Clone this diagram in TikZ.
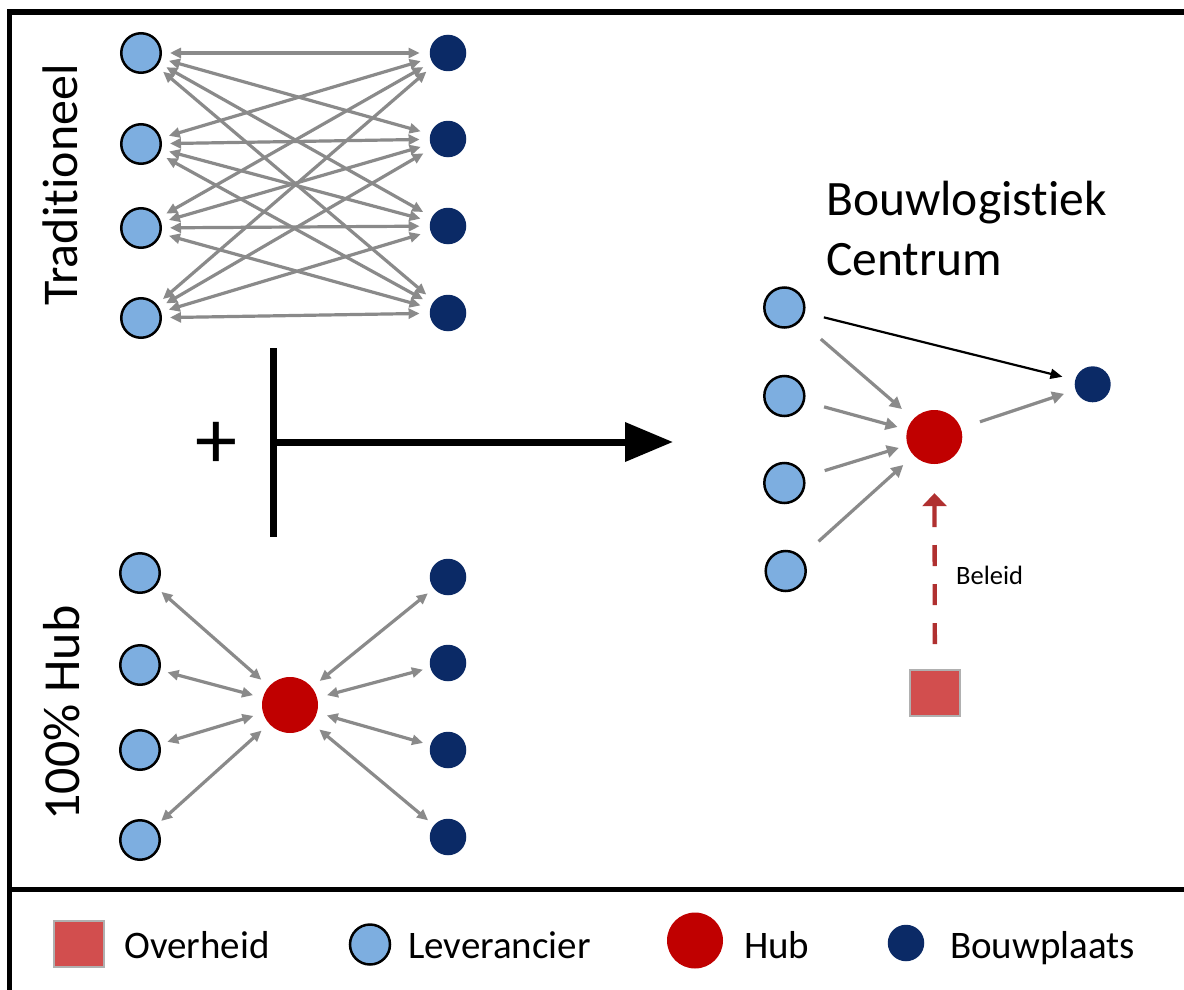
\documentclass[tikz,border=0pt]{standalone}
\usepackage{fontspec}
\setmainfont[Ligatures=NoCommon]{Carlito}
\usetikzlibrary{arrows.meta,shapes.geometric}

\definecolor{cSupplier}{HTML}{7DAEE0}
\definecolor{cSite}{HTML}{0B2A66}
\definecolor{cHub}{HTML}{C00000}
\definecolor{cGov}{HTML}{D24E4E}
\definecolor{cGovEdge}{HTML}{B0B0B0}
\definecolor{cLink}{HTML}{8A8A8A}
\definecolor{cPolicy}{HTML}{B03030}

\begin{document}
\begin{tikzpicture}[x=1pt,y=-1pt,
  supplier/.style={circle,draw=black,line width=2.5pt,fill=cSupplier,minimum size=39.5pt,inner sep=0pt},
  siteDot/.style={circle,fill=cSite,minimum size=36.5pt,inner sep=0pt},
  hubDot/.style={circle,fill=cHub,minimum size=56pt,inner sep=0pt},
  govbox/.style={rectangle,fill=cGov,draw=cGovEdge,line width=2pt,minimum width=50pt,minimum height=46pt,inner sep=0pt},
  twoway/.style={draw=cLink,line width=3.2pt,{Triangle[length=11pt,width=10pt]}-{Triangle[length=11pt,width=10pt]}},
  oneway/.style={draw=cLink,line width=3.2pt,-{Triangle[length=12pt,width=12pt]}},
  txt/.style={inner sep=0pt,anchor=base west},
  legendfont/.style={font=\fontsize{39}{44}\selectfont},
]
\useasboundingbox[fill=white] (0,0) rectangle (1184,990);

% frame and legend separator
\draw[line width=5.7pt] (7.3,12) -- (1184,12);
\draw[line width=4.4pt] (9.5,9.2) -- (9.5,990);
\draw[line width=5.5pt] (9.5,889.5) -- (1184,889.5);

% traditional: every supplier to every site
\foreach \i/\y in {1/53,2/144,3/228,4/318}
  \node[supplier] (tl\i) at (141,\y) {};
\foreach \i/\y in {1/53,2/139,3/226,4/313}
  \node[siteDot] (tr\i) at (448,\y) {};
\foreach \i in {1,...,4}
  \foreach \j in {1,...,4}
    \draw[twoway,shorten <=8pt,shorten >=10pt] (tl\i) -- (tr\j);
\node[rotate=90,anchor=base,inner sep=0pt,font=\fontsize{50}{60}\selectfont] (trad) at (77,185) {Traditioneel};

% full hub
\node[hubDot] (bh) at (290,705) {};
\foreach \i/\y in {1/573,2/665,3/750,4/840}
  \node[supplier] (bl\i) at (140,\y) {};
\foreach \i/\y in {1/577,2/663,3/750,4/837}
  \node[siteDot] (br\i) at (448,\y) {};
\foreach \i in {1,...,4} {
  \draw[twoway,shorten <=7.5pt,shorten >=10pt] (bl\i) -- (bh);
  \draw[twoway,shorten <=10pt,shorten >=7.5pt] (bh) -- (br\i);
}
\node[rotate=90,anchor=base,inner sep=0pt,font=\fontsize{52}{60}\selectfont] (hubtitle) at (79,713) {100\% Hub};

% combination operator
\node[inner sep=0pt,font=\fontsize{84}{84}\selectfont] (plus) at (216.7,445) {+};
\coordinate (bartop) at (273,348);
\coordinate (barbot) at (273,537);
\coordinate (join) at (273,442);
\coordinate (tip) at (673,442);
\draw[line width=7pt] (bartop) -- (barbot);
\draw[line width=7pt,-{Triangle[length=48pt,width=38pt]}] (join) -- (tip);

% construction logistics centre
\node[txt,font=\fontsize{49.5}{60}\selectfont] (bt1) at (826,215.7) {Bouwlogistiek};
\node[txt,font=\fontsize{49.5}{60}\selectfont] (bt2) at (826,275.4) {Centrum};
\node[supplier,minimum size=40pt] (c1) at (784.3,307.5) {};
\node[supplier,minimum size=40pt] (c2) at (784.3,396) {};
\node[supplier,minimum size=40pt] (c3) at (784.3,483) {};
\node[supplier,minimum size=40pt] (c4) at (785.7,571) {};
\node[siteDot,minimum size=36pt] (cs) at (1092.7,384.3) {};
\node[ellipse,fill=cHub,inner sep=0pt,minimum width=56pt,minimum height=54pt] (ch) at (934.3,437) {};
\node[govbox] (cg) at (935,693) {};
\draw[oneway,shorten <=27pt,shorten >=15pt] (c1) -- (ch);
\draw[oneway,shorten <=20pt,shorten >=10pt] (c2) -- (ch);
\draw[oneway,shorten <=21pt,shorten >=9pt] (c3) -- (ch);
\draw[oneway,shorten <=23pt,shorten >=14pt] (c4) -- (ch);
\draw[oneway,shorten <=20pt,shorten >=12pt] (ch) -- (cs);
\draw[black,line width=2.2pt,-{Triangle[length=12pt,width=10pt]},shorten <=19.5pt,shorten >=13pt] (c1) -- (cs);
\draw[cPolicy,line width=4.3pt,dash pattern=on 21pt off 18pt,-{Triangle[length=13pt,width=24pt]},shorten <=25pt,shorten >=29pt] (cg) -- (ch);
\node[txt,font=\fontsize{26.5}{32}\selectfont] (beleid) at (956,584) {Beleid};

% legend
\node[govbox] (lg) at (79,944) {};
\node[txt,legendfont] (lgt) at (124,958) {Overheid};
\node[supplier,minimum size=40pt] (ls) at (370,944.5) {};
\node[txt,legendfont] (lst) at (408,958) {Leverancier};
\node[hubDot] (lh) at (695,940.5) {};
\node[txt,legendfont] (lht) at (744,958) {Hub};
\node[siteDot] (lb) at (906,943) {};
\node[txt,legendfont] (lbt) at (950,958) {Bouwplaats};
\end{tikzpicture}
\end{document}
